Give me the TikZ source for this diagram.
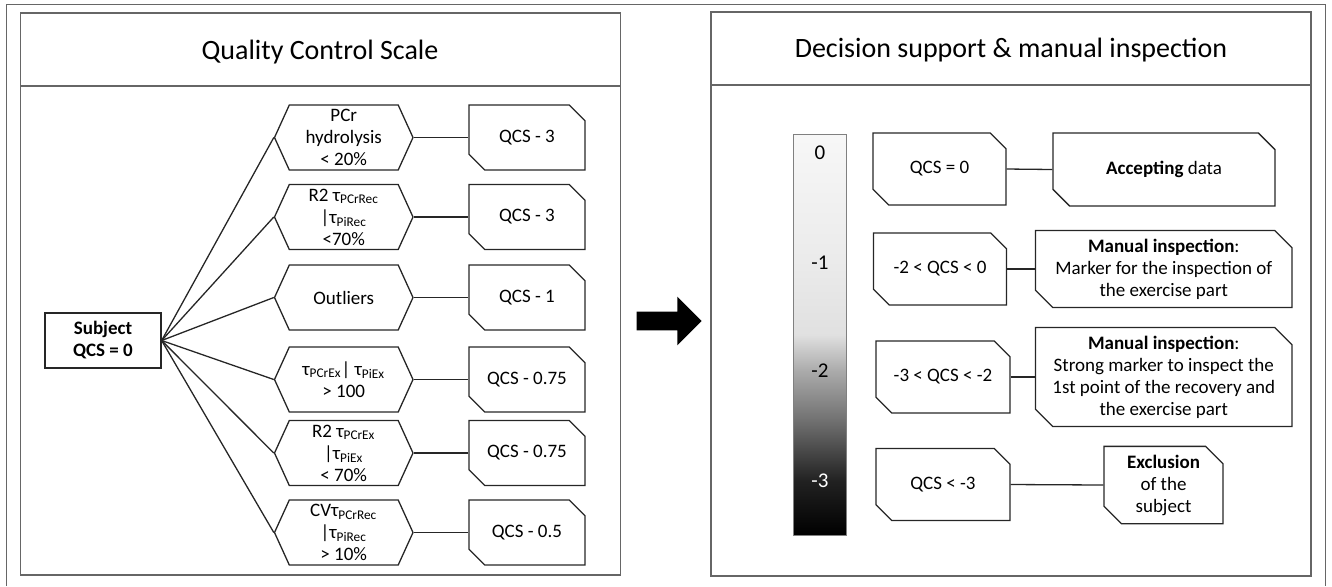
\documentclass[tikz,border=0pt]{standalone}
\usepackage{fontspec}
\setmainfont{Carlito}
\usetikzlibrary{positioning,shapes.misc,shapes.symbols,shapes.arrows}

\pgfdeclareverticalshading{qcsbar}{100bp}{color(0bp)=(black); color(25bp)=(black);
  color(31.75bp)=(black!87); color(39.5bp)=(black!55); color(45.5bp)=(black!33);
  color(50bp)=(black!12); color(59bp)=(black!8); color(75bp)=(black!3); color(100bp)=(black!3)}

\tikzset{
  line/.style={draw=black!85, line width=0.65pt},
  panel/.style={draw=black!60, line width=0.9pt},
  ptitle/.style={font=\fontsize{14}{16}\selectfont},
  txt/.style={align=center, inner sep=1pt, font=\fontsize{9.5}{11}\selectfont},
  hexbox/.style={txt, signal, signal to=west and east, signal pointer angle=131,
    draw=black!85, line width=0.65pt, minimum width=69.25pt, minimum height=32.5pt},
  snipbox/.style={txt, chamfered rectangle, chamfered rectangle corners={north east,south west},
    chamfered rectangle xsep=5.5pt, draw=black!85, line width=0.65pt},
  barlabel/.style={font=\fontsize{10.5}{12}\selectfont, inner sep=0pt}
}

\begin{document}
\begin{tikzpicture}[x=0.5pt,y=-0.5pt]
  \useasboundingbox (0,0) rectangle (1332,586);
  \draw[black!60] (6,586) -- (6,4) -- (1325,4) -- (1325,586);

  % left panel
  \draw[panel] (20.5,13) rectangle (620.5,575);
  \draw[panel] (20.5,86) -- (620.5,86);
  \node[ptitle] (ltitle) at (320,52) {Quality Control Scale};

  \node[txt, draw=black!85, line width=0.65pt, font=\fontsize{9.5}{11}\bfseries,
    minimum width=58pt, minimum height=27.5pt] (subj) at (103,340.5) {Subject\\QCS = 0};

  \node[hexbox] (c1) at (343.75,137.5) {PCr\\hydrolysis\\< 20\%};
  \node[hexbox] (c2) at (343.75,217) {R2 τ\textsubscript{PCrRec}\\{|}τ\textsubscript{PiRec}\\<70\%};
  \node[hexbox] (c3) at (343.75,297.5) {Outliers};
  \node[hexbox] (c4) at (343.75,379.5) {τ\textsubscript{PCrEx}{|} τ\textsubscript{PiEx}\\> 100};
  \node[hexbox] (c5) at (343.75,453) {R2 τ\textsubscript{PCrEx}\\{|}τ\textsubscript{PiEx}\\< 70\%};
  \node[hexbox] (c6) at (343.75,532.5) {CVτ\textsubscript{PCrRec}\\{|}τ\textsubscript{PiRec}\\> 10\%};

  \node[snipbox, minimum width=58pt, minimum height=32.5pt] (q1) at (527,137.5) {QCS - 3};
  \node[snipbox, minimum width=58pt, minimum height=32.5pt] (q2) at (527,217) {QCS - 3};
  \node[snipbox, minimum width=58pt, minimum height=32.5pt] (q3) at (527,297.5) {QCS - 1};
  \node[snipbox, minimum width=58pt, minimum height=32.5pt] (q4) at (527,379.5) {QCS - 0.75};
  \node[snipbox, minimum width=58pt, minimum height=32.5pt] (q5) at (527,453) {QCS - 0.75};
  \node[snipbox, minimum width=58pt, minimum height=32.5pt] (q6) at (527,532.5) {QCS - 0.5};

  \path[line]
    (subj.east) edge (c1.west)
    (subj.east) edge (c2.west)
    (subj.east) edge (c3.west)
    (subj.east) edge (c4.west)
    (subj.east) edge (c5.west)
    (subj.east) edge (c6.west)
    (c1.east) edge (q1.west)
    (c2.east) edge (q2.west)
    (c3.east) edge (q3.west)
    (c4.east) edge (q4.west)
    (c5.east) edge (q5.west)
    (c6.east) edge (q6.west);

  % arrow between panels
  \node[single arrow, fill=black, inner xsep=0pt, inner ysep=4.5pt, minimum width=24pt,
    minimum height=32.5pt, single arrow head extend=7.5pt] (go) at (664.5,321) {};

  % right panel
  \draw[panel] (711,12) rectangle (1311,576);
  \draw[panel] (711,85) -- (1311,85);
  \node[ptitle] (rtitle) at (1011,50) {Decision support \& manual inspection};

  \node[draw=black!50, shade, shading=qcsbar, inner sep=0pt,
    minimum width=26.25pt, minimum height=200.5pt] (bar) at (819.75,334.5) {};
  \node[barlabel] (b0) at (820,153) {0};
  \node[barlabel] (b1) at (820,263) {-1};
  \node[barlabel] (b2) at (820,371) {-2};
  \node[barlabel, text=white] (b3) at (820,481) {-3};

  \node[snipbox, minimum width=66.5pt, minimum height=36pt] (r1) at (939.5,169) {QCS = 0};
  \node[snipbox, minimum width=66.5pt, minimum height=36pt] (r2) at (940,269) {-2 < QCS < 0};
  \node[snipbox, minimum width=67pt, minimum height=36pt] (r3) at (943,377) {-3 < QCS < -2};
  \node[snipbox, minimum width=67pt, minimum height=36pt] (r4) at (943,484.5) {QCS < -3};

  \node[snipbox, minimum width=111pt, minimum height=36.5pt] (d1) at (1164,169.5) {\textbf{Accepting} data};
  \node[snipbox, minimum width=128.25pt, minimum height=36pt] (d2) at (1163.75,269)
    {\textbf{Manual inspection}:\\Marker for the inspection of\\the exercise part};
  \node[snipbox, minimum width=128.25pt, minimum height=46pt] (d3) at (1163.75,377)
    {\textbf{Manual inspection}:\\Strong marker to inspect the\\1st point of the recovery and\\the exercise part};
  \node[snipbox, minimum width=59.5pt, minimum height=36pt] (d4) at (1163.5,485)
    {\textbf{Exclusion}\\of the\\subject};

  \path[line]
    (r1.east) edge (d1.west)
    (r2.east) edge (d2.west)
    (r3.east) edge (d3.west)
    (r4.east) edge (d4.west);
\end{tikzpicture}
\end{document}
